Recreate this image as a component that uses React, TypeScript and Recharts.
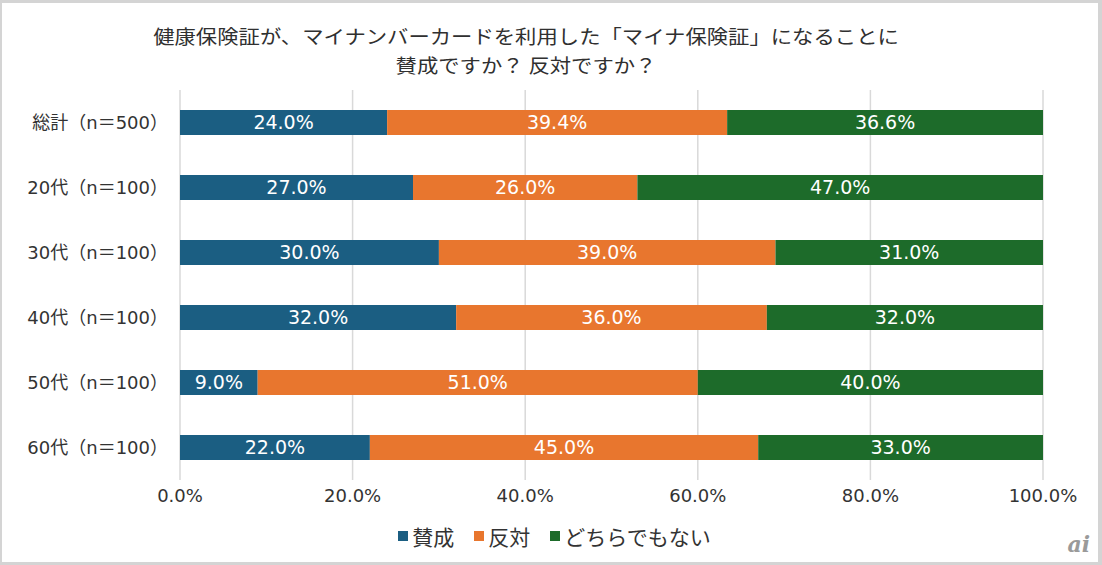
import React from "react";
import {
  BarChart,
  Bar,
  XAxis,
  YAxis,
  CartesianGrid,
  Legend,
  LabelList,
} from "recharts";

const categories = [
  "総計（n＝500）",
  "20代（n＝100）",
  "30代（n＝100）",
  "40代（n＝100）",
  "50代（n＝100）",
  "60代（n＝100）",
];
const agree = [24.0, 27.0, 30.0, 32.0, 9.0, 22.0];
const oppose = [39.4, 26.0, 39.0, 36.0, 51.0, 45.0];
const neither = [36.6, 47.0, 31.0, 32.0, 40.0, 33.0];
const xTicks = [0, 20, 40, 60, 80, 100];
const titleLines = [
  "健康保険証が、マイナンバーカードを利用した「マイナ保険証」になることに",
  "賛成ですか？ 反対ですか？",
];

const series = [
  { key: "agree", name: "賛成", color: "#1b5e82" },
  { key: "oppose", name: "反対", color: "#e8762e" },
  { key: "neither", name: "どちらでもない", color: "#1d6b2a" },
];

const data = categories.map((c, i) => ({
  name: c,
  agree: agree[i],
  oppose: oppose[i],
  neither: neither[i],
}));

const FONT = '"DejaVu Sans", "Noto Sans CJK JP", sans-serif';
const JP = '"Noto Sans CJK JP", sans-serif';

const fmt = (v: any) => `${Number(v).toFixed(1)}%`;

function LegendBox() {
  return (
    <div
      style={{
        height: 52,
        display: "flex",
        justifyContent: "center",
        alignItems: "center",
        gap: 20,
        paddingLeft: 66,
        fontFamily: JP,
        fontSize: 21,
        color: "#333",
      }}
    >
      {series.map((s) => (
        <div key={s.key} style={{ display: "flex", alignItems: "center" }}>
          <span
            style={{
              display: "inline-block",
              width: 10,
              height: 10,
              background: s.color,
              marginRight: 4,
            }}
          />
          {s.name}
        </div>
      ))}
    </div>
  );
}

export default function App() {
  return (
    <div
      style={{
        position: "absolute",
        left: 0,
        top: 0,
        width: 1102,
        height: 565,
        background: "#d4d4d4",
      }}
    >
      <div
        style={{
          position: "absolute",
          left: 2,
          top: 3,
          width: 1096,
          height: 559,
          background: "#fff",
        }}
      />
      {titleLines.map((t, i) => (
        <div
          key={i}
          style={{
            position: "absolute",
            left: 0,
            top: 21 + i * 29,
            width: 1052,
            height: 28,
            textAlign: "center",
            fontFamily: JP,
            fontSize: 22,
            lineHeight: "28px",
            color: "#303030",
            transform: "scale(0.97, 0.87)",
            whiteSpace: "nowrap",
          }}
        >
          {t}
        </div>
      ))}
      <div style={{ position: "absolute", left: 0, top: 0 }}>
        <BarChart
          width={1102}
          height={565}
          data={data}
          layout="vertical"
          margin={{ top: 90, right: 59, left: 0, bottom: 3 }}
          barSize={25}
        >
          <CartesianGrid horizontal={false} stroke="#d9d9d9" strokeWidth={1.5} />
          <XAxis
            type="number"
            domain={[0, 100]}
            ticks={xTicks}
            tickFormatter={fmt}
            axisLine={false}
            tickLine={false}
            height={30}
            tick={{ fontFamily: FONT, fontSize: 18, fill: "#333" }}
            tickMargin={3}
          />
          <YAxis
            type="category"
            dataKey="name"
            width={180}
            axisLine={false}
            tickLine={false}
            tick={{ fontFamily: FONT, fontSize: 18, fill: "#333" }}
            tickMargin={6}
          />
          <Legend verticalAlign="bottom" content={() => <LegendBox />} />
          {series.map((s) => (
            <Bar
              key={s.key}
              dataKey={s.key}
              name={s.name}
              stackId="a"
              fill={s.color}
              isAnimationActive={false}
            >
              <LabelList
                dataKey={s.key}
                position="center"
                formatter={fmt}
                fill="#fff"
                style={{ fontFamily: FONT, fontSize: 19 }}
              />
            </Bar>
          ))}
        </BarChart>
      </div>
      <div
        style={{
          position: "absolute",
          right: 12,
          bottom: 8,
          fontFamily: '"DejaVu Serif", serif',
          fontStyle: "italic",
          fontWeight: "bold",
          fontSize: 22,
          color: "#9a9a9a",
        }}
      >
        ai
      </div>
    </div>
  );
}
